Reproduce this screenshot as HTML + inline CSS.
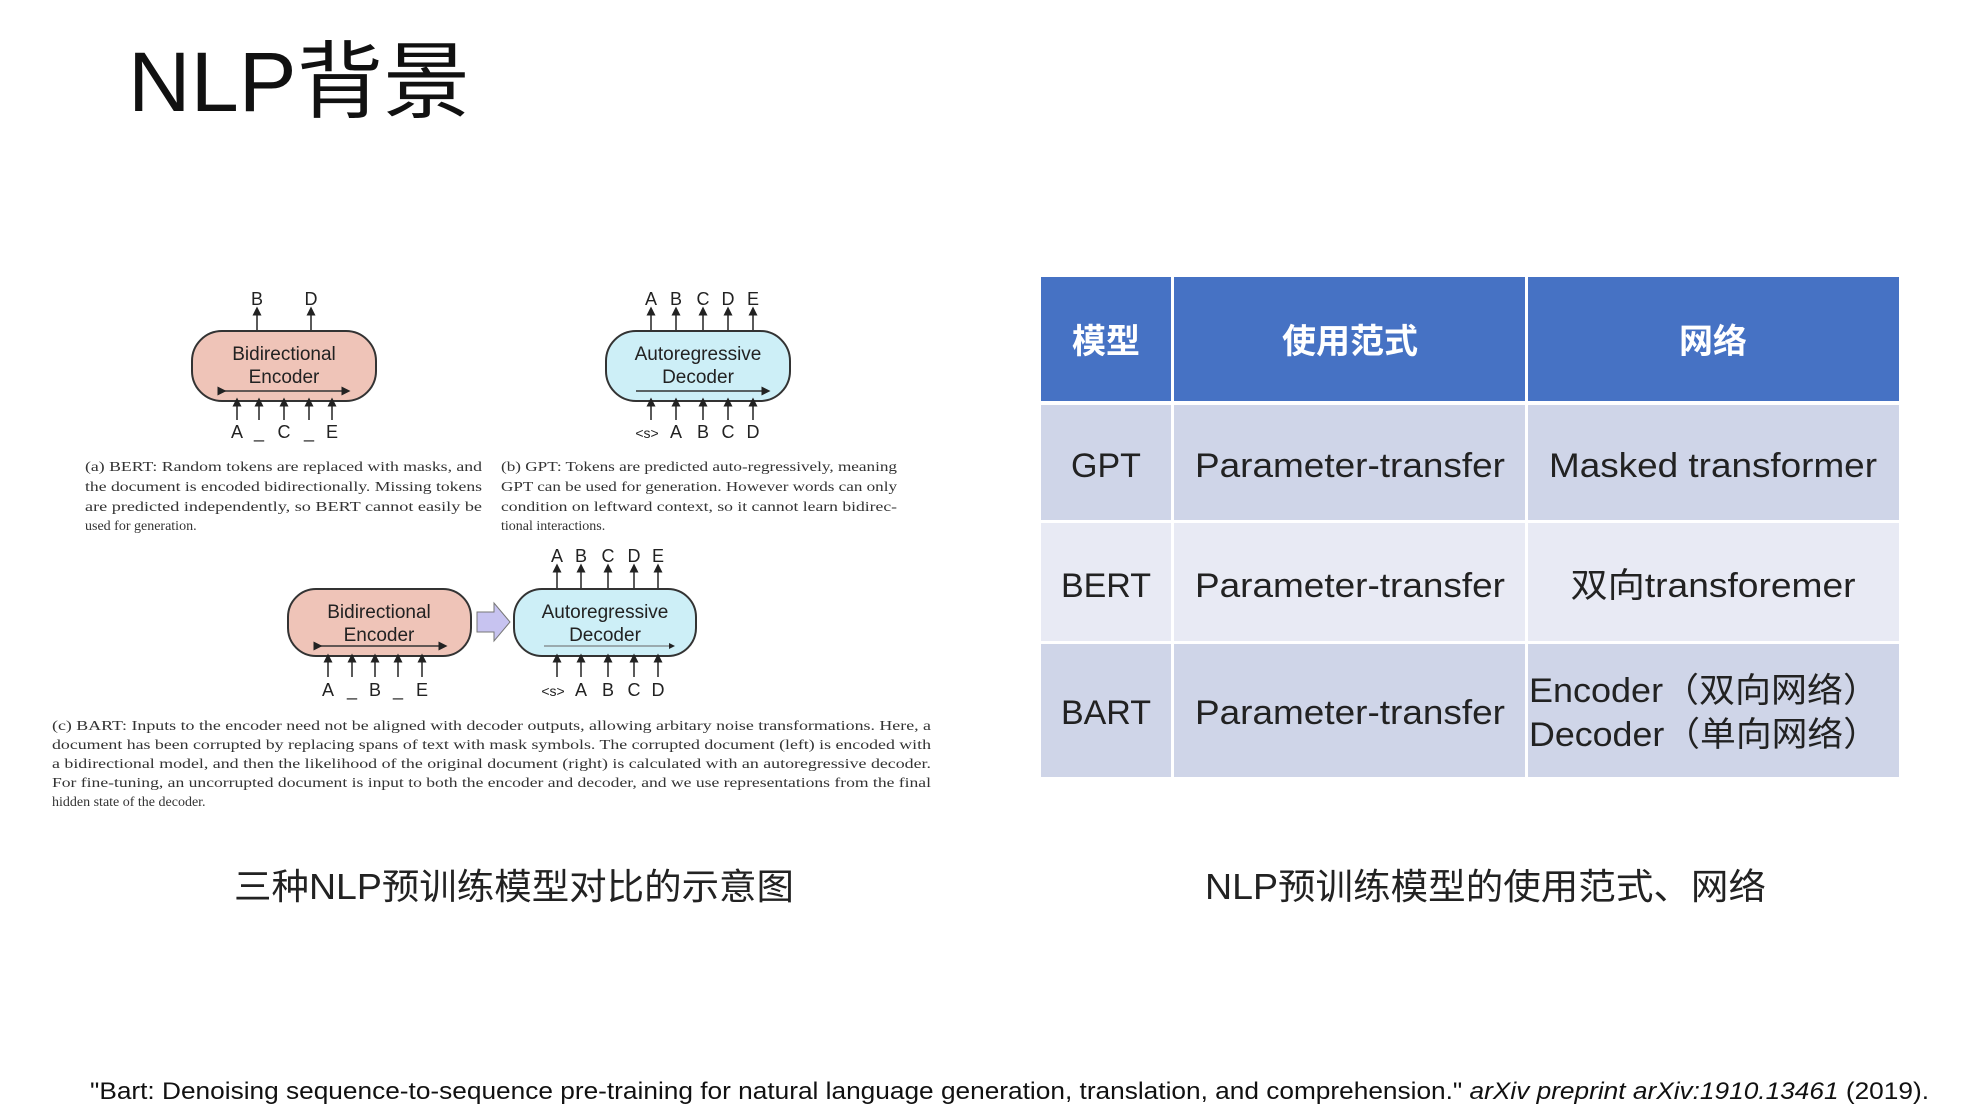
<!DOCTYPE html>
<html><head><meta charset="utf-8"><style>
html,body{margin:0;padding:0;background:#fff;}
svg{display:block;}
</style></head><body>
<svg width="1964" height="1111" viewBox="0 0 1964 1111" xmlns="http://www.w3.org/2000/svg">
<defs>
<marker id="ah" markerWidth="6" markerHeight="6" refX="3" refY="3" orient="auto"><path d="M0,0 L6,3 L0,6 z" fill="#222"/></marker>
</defs>
<rect width="1964" height="1111" fill="#fff"/>
<text x="128" y="111" font-family="Liberation Sans, Noto Sans CJK SC, sans-serif" font-size="84" fill="#111" textLength="342" lengthAdjust="spacingAndGlyphs">NLP背景</text>

<!-- BERT -->
<g font-family="Liberation Sans, sans-serif" fill="#222" stroke="none">
<rect x="192" y="331" width="184" height="70" rx="30" fill="#efc4b8" stroke="#333" stroke-width="2"/>
<text x="284" y="360" font-size="19" text-anchor="middle">Bidirectional</text>
<text x="284" y="383" font-size="19" text-anchor="middle">Encoder</text>
<line x1="222" y1="391" x2="346" y2="391" stroke="#333" stroke-width="1.5" marker-start="url(#ah)" marker-end="url(#ah)"/>
<g stroke="#222" stroke-width="1.5" marker-end="url(#ah)">
<line x1="257" y1="330" x2="257" y2="311"/><line x1="311" y1="330" x2="311" y2="311"/>
<line x1="237" y1="420" x2="237" y2="402"/><line x1="259" y1="420" x2="259" y2="402"/><line x1="284" y1="420" x2="284" y2="402"/><line x1="309" y1="420" x2="309" y2="402"/><line x1="332" y1="420" x2="332" y2="402"/>
</g>
<g font-size="18" text-anchor="middle">
<text x="257" y="305">B</text><text x="311" y="305">D</text>
<text x="237" y="438">A</text><text x="259" y="438">_</text><text x="284" y="438">C</text><text x="309" y="438">_</text><text x="332" y="438">E</text>
</g>

<!-- GPT -->
<rect x="606" y="331" width="184" height="70" rx="30" fill="#cdeff7" stroke="#333" stroke-width="2"/>
<text x="698" y="360" font-size="19" text-anchor="middle">Autoregressive</text>
<text x="698" y="383" font-size="19" text-anchor="middle">Decoder</text>
<line x1="636" y1="391" x2="766" y2="391" stroke="#333" stroke-width="1.5" marker-end="url(#ah)"/>
<g stroke="#222" stroke-width="1.5" marker-end="url(#ah)">
<line x1="651" y1="330" x2="651" y2="311"/><line x1="676" y1="330" x2="676" y2="311"/><line x1="703" y1="330" x2="703" y2="311"/><line x1="728" y1="330" x2="728" y2="311"/><line x1="753" y1="330" x2="753" y2="311"/>
<line x1="651" y1="420" x2="651" y2="402"/><line x1="676" y1="420" x2="676" y2="402"/><line x1="703" y1="420" x2="703" y2="402"/><line x1="728" y1="420" x2="728" y2="402"/><line x1="753" y1="420" x2="753" y2="402"/>
</g>
<g font-size="18" text-anchor="middle">
<text x="651" y="305">A</text><text x="676" y="305">B</text><text x="703" y="305">C</text><text x="728" y="305">D</text><text x="753" y="305">E</text>
<text x="647" y="438" font-size="14">&lt;s&gt;</text><text x="676" y="438">A</text><text x="703" y="438">B</text><text x="728" y="438">C</text><text x="753" y="438">D</text>
</g>

<!-- captions a b -->
<g font-family="Liberation Serif, serif" font-size="14" fill="#333">
<text x="85" y="471" textLength="397" lengthAdjust="spacingAndGlyphs">(a) BERT: Random tokens are replaced with masks, and</text>
<text x="85" y="491" textLength="397" lengthAdjust="spacingAndGlyphs">the document is encoded bidirectionally. Missing tokens</text>
<text x="85" y="511" textLength="397" lengthAdjust="spacingAndGlyphs">are predicted independently, so BERT cannot easily be</text>
<text x="85" y="530">used for generation.</text>
<text x="501" y="471" textLength="396" lengthAdjust="spacingAndGlyphs">(b) GPT: Tokens are predicted auto-regressively, meaning</text>
<text x="501" y="491" textLength="396" lengthAdjust="spacingAndGlyphs">GPT can be used for generation. However words can only</text>
<text x="501" y="511" textLength="396" lengthAdjust="spacingAndGlyphs">condition on leftward context, so it cannot learn bidirec-</text>
<text x="501" y="530">tional interactions.</text>
</g>

<!-- BART -->
<rect x="288" y="589" width="183" height="67" rx="28" fill="#efc4b8" stroke="#333" stroke-width="2"/>
<text x="379" y="618" font-size="19" text-anchor="middle">Bidirectional</text>
<text x="379" y="641" font-size="19" text-anchor="middle">Encoder</text>
<line x1="318" y1="646" x2="443" y2="646" stroke="#333" stroke-width="1.5" marker-start="url(#ah)" marker-end="url(#ah)"/>
<path d="M477,612 L494,612 L494,603 L510,622 L494,641 L494,632 L477,632 z" fill="#c7c3f0" stroke="#777" stroke-width="1"/>
<rect x="514" y="589" width="182" height="67" rx="28" fill="#cdeff7" stroke="#333" stroke-width="2"/>
<text x="605" y="618" font-size="19" text-anchor="middle">Autoregressive</text>
<text x="605" y="641" font-size="19" text-anchor="middle">Decoder</text>
<line x1="544" y1="646" x2="672" y2="646" stroke="#666" stroke-width="1" marker-end="url(#ah)"/>
<g stroke="#222" stroke-width="1.5" marker-end="url(#ah)">
<line x1="557" y1="588" x2="557" y2="568"/><line x1="581" y1="588" x2="581" y2="568"/><line x1="608" y1="588" x2="608" y2="568"/><line x1="634" y1="588" x2="634" y2="568"/><line x1="658" y1="588" x2="658" y2="568"/>
<line x1="328" y1="677" x2="328" y2="658"/><line x1="352" y1="677" x2="352" y2="658"/><line x1="375" y1="677" x2="375" y2="658"/><line x1="398" y1="677" x2="398" y2="658"/><line x1="422" y1="677" x2="422" y2="658"/>
<line x1="557" y1="677" x2="557" y2="658"/><line x1="581" y1="677" x2="581" y2="658"/><line x1="608" y1="677" x2="608" y2="658"/><line x1="634" y1="677" x2="634" y2="658"/><line x1="658" y1="677" x2="658" y2="658"/>
</g>
<g font-size="18" text-anchor="middle">
<text x="557" y="562">A</text><text x="581" y="562">B</text><text x="608" y="562">C</text><text x="634" y="562">D</text><text x="658" y="562">E</text>
<text x="328" y="696">A</text><text x="352" y="696">_</text><text x="375" y="696">B</text><text x="398" y="696">_</text><text x="422" y="696">E</text>
<text x="553" y="696" font-size="14">&lt;s&gt;</text><text x="581" y="696">A</text><text x="608" y="696">B</text><text x="634" y="696">C</text><text x="658" y="696">D</text>
</g>
</g>
<g font-family="Liberation Serif, serif" font-size="14" fill="#333">
<text x="52" y="730" textLength="879" lengthAdjust="spacingAndGlyphs">(c) BART: Inputs to the encoder need not be aligned with decoder outputs, allowing arbitary noise transformations.  Here, a</text>
<text x="52" y="749" textLength="879" lengthAdjust="spacingAndGlyphs">document has been corrupted by replacing spans of text with mask symbols. The corrupted document (left) is encoded with</text>
<text x="52" y="768" textLength="879" lengthAdjust="spacingAndGlyphs">a bidirectional model, and then the likelihood of the original document (right) is calculated with an autoregressive decoder.</text>
<text x="52" y="787" textLength="879" lengthAdjust="spacingAndGlyphs">For fine-tuning, an uncorrupted document is input to both the encoder and decoder, and we use representations from the final</text>
<text x="52" y="806">hidden state of the decoder.</text>
</g>

<!-- table -->
<g font-family="Liberation Sans, Noto Sans CJK SC, sans-serif">
<rect x="1041" y="277" width="130" height="124" fill="#4672c4"/>
<rect x="1174" y="277" width="351" height="124" fill="#4672c4"/>
<rect x="1528" y="277" width="371" height="124" fill="#4672c4"/>
<rect x="1041" y="405" width="130" height="115" fill="#cfd5e8"/>
<rect x="1174" y="405" width="351" height="115" fill="#cfd5e8"/>
<rect x="1528" y="405" width="371" height="115" fill="#cfd5e8"/>
<rect x="1041" y="523" width="130" height="118" fill="#e8eaf4"/>
<rect x="1174" y="523" width="351" height="118" fill="#e8eaf4"/>
<rect x="1528" y="523" width="371" height="118" fill="#e8eaf4"/>
<rect x="1041" y="644" width="130" height="133" fill="#cfd5e8"/>
<rect x="1174" y="644" width="351" height="133" fill="#cfd5e8"/>
<rect x="1528" y="644" width="371" height="133" fill="#cfd5e8"/>
<g fill="#fff" font-size="34" font-weight="bold" text-anchor="middle">
<text x="1106" y="353">模型</text><text x="1350" y="353">使用范式</text><text x="1713" y="353">网络</text>
</g>
<g fill="#222" font-size="34" text-anchor="middle">
<text x="1106" y="477">GPT</text><text x="1350" y="477" textLength="310" lengthAdjust="spacingAndGlyphs">Parameter-transfer</text><text x="1713" y="477" textLength="328" lengthAdjust="spacingAndGlyphs">Masked transformer</text>
<text x="1106" y="597">BERT</text><text x="1350" y="597" textLength="310" lengthAdjust="spacingAndGlyphs">Parameter-transfer</text><text x="1713" y="597" textLength="285" lengthAdjust="spacingAndGlyphs">双向transforemer</text>
<text x="1106" y="724">BART</text><text x="1350" y="724" textLength="310" lengthAdjust="spacingAndGlyphs">Parameter-transfer</text>
</g>
<g fill="#222" font-size="34">
<text x="1529" y="702" textLength="350" lengthAdjust="spacingAndGlyphs">Encoder（双向网络）</text>
<text x="1529" y="746" textLength="350" lengthAdjust="spacingAndGlyphs">Decoder（单向网络）</text>
</g>
</g>

<g font-family="Liberation Sans, Noto Sans CJK SC, sans-serif" font-size="36" fill="#222">
<text x="234" y="899" textLength="560" lengthAdjust="spacingAndGlyphs">三种NLP预训练模型对比的示意图</text>
<text x="1205" y="899" textLength="561" lengthAdjust="spacingAndGlyphs">NLP预训练模型的使用范式、网络</text>
</g>
<text x="90" y="1099" font-family="Liberation Sans, sans-serif" font-size="24" fill="#111" textLength="1839" lengthAdjust="spacingAndGlyphs">"Bart: Denoising sequence-to-sequence pre-training for natural language generation, translation, and comprehension." <tspan font-style="italic">arXiv preprint arXiv:1910.13461</tspan> (2019).</text>
</svg>
</body></html>
